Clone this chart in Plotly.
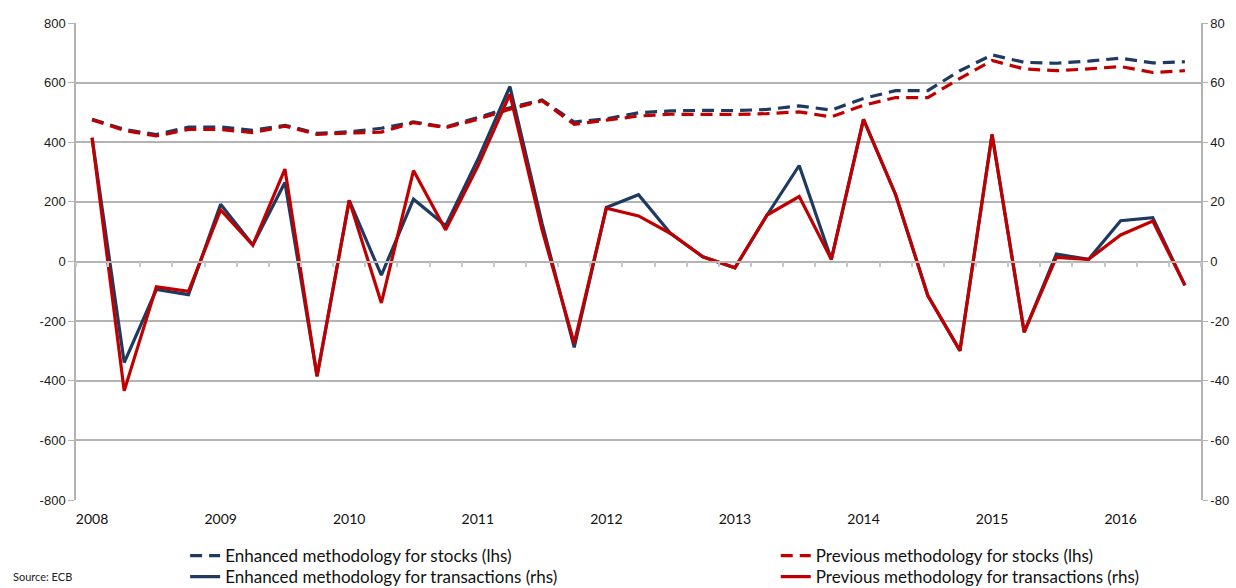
import plotly.graph_objects as go

quarters = [f"{y}Q{q}" for y in range(2008, 2017) for q in range(1, 5)][:35]
year_ticks = [f"{y}Q1" for y in range(2008, 2017)]
year_labels = [str(y) for y in range(2008, 2017)]
lhs_ticks = [-800, -600, -400, -200, 0, 200, 400, 600, 800]
lhs_labels = ["-800", "-600", "-400", "-200", "0", "200", "400", "600", "800"]
rhs_ticks = [-80, -60, -40, -20, 0, 20, 40, 60, 80]
rhs_labels = ["-80", "-60", "-40", "-20", "0", "20", "40", "60", "80"]

enh_stocks = [477, 443, 426, 451, 451, 440, 457, 430, 435, 447, 468, 451,
              483, 516, 542, 468, 479, 499, 505, 507, 506, 510, 522, 508,
              547, 573, 573, 640, 693, 668, 665, 672, 682, 666, 670]
prev_stocks = [475, 440, 421, 443, 443, 432, 454, 426, 431, 434, 466, 449,
               477, 511, 539, 460, 474, 488, 494, 494, 493, 496, 502, 485,
               524, 550, 550, 614, 674, 646, 640, 646, 654, 634, 640]
enh_trans = [41.5, -33.9, -9.4, -11.1, 19.2, 5.5, 26.5, -38.5, 20.5, -4.6, 20.9, 12.0,
             34.2, 58.7, 12.8, -28.8, 18.1, 22.4, 9.4, 1.6, -2.1, 15.6, 32.2, 0.7,
             47.7, 22.4, -11.4, -29.9, 42.6, -23.7, 2.5, 0.7, 13.7, 14.7, -8.0]
prev_trans = [41.5, -43.4, -8.5, -10.0, 17.3, 5.5, 31.0, -38.5, 20.5, -13.9, 30.5, 10.6,
              31.9, 56.1, 10.6, -27.4, 17.9, 15.3, 9.4, 1.6, -2.1, 15.6, 21.8, 0.7,
              47.7, 22.4, -11.4, -29.9, 42.6, -23.7, 1.4, 0.7, 8.9, 13.6, -8.0]

NAVY = "#1F3A60"
RED = "#C00000"
GRID = "#B3B3B3"
DASH = "12px,7px"
LW = 3.2

fig = go.Figure()
fig.add_trace(go.Scatter(x=quarters, y=enh_stocks, mode="lines", name="Enhanced methodology for stocks (lhs)",
                         line=dict(color=NAVY, width=LW, dash=DASH), legend="legend"))
fig.add_trace(go.Scatter(x=quarters, y=prev_stocks, mode="lines", name="Previous methodology for stocks (lhs)",
                         line=dict(color=RED, width=LW, dash=DASH), legend="legend2"))
fig.add_trace(go.Scatter(x=quarters, y=enh_trans, mode="lines", name="Enhanced methodology for transactions (rhs)",
                         line=dict(color=NAVY, width=LW), yaxis="y2", legend="legend3"))
fig.add_trace(go.Scatter(x=quarters, y=prev_trans, mode="lines", name="Previous methodology for transactions (rhs)",
                         line=dict(color=RED, width=LW), yaxis="y2", legend="legend4"))
# helper (invisible) trace so the zero-line category axis with boundary ticks is drawn
fig.add_trace(go.Scatter(x=quarters, y=[None] * len(quarters), xaxis="x2", showlegend=False,
                         hoverinfo="skip", mode="lines"))

tick_font = dict(family="Liberation Sans, Arial, sans-serif", size=13, color="#1a1a1a")
leg_font = dict(family="Lato, Open Sans, sans-serif", size=17, color="#111")


def leg(x, y):
    return dict(x=x, y=y, xanchor="left", yanchor="top", orientation="v",
                font=leg_font, bgcolor="rgba(0,0,0,0)", itemwidth=30, tracegroupgap=0)


fig.update_layout(
    width=1236, height=588,
    margin=dict(l=76, r=35, t=23, b=88, autoexpand=False),
    paper_bgcolor="white", plot_bgcolor="white",
    showlegend=True,
    xaxis=dict(type="category", categoryorder="array", categoryarray=quarters,
               range=[-0.5, len(quarters) - 0.5], tickmode="array", tickvals=year_ticks,
               ticktext=year_labels, showgrid=False, showline=False, zeroline=False,
               ticks="", ticklabelstandoff=9,
               tickfont=dict(family="Lato, Open Sans, sans-serif", size=14, color="#111")),
    xaxis2=dict(type="category", categoryorder="array", categoryarray=quarters,
                range=[-0.5, len(quarters) - 0.5], overlaying="x", anchor="free", position=0.5,
                side="bottom", showticklabels=False, showgrid=False, zeroline=False,
                showline=True, linecolor=GRID, linewidth=1.5,
                ticks="outside", tickson="boundaries", ticklen=5, tickcolor="#C8C8C8", tickwidth=1.5),
    yaxis=dict(range=[-800, 800], tickmode="array", tickvals=lhs_ticks, ticktext=lhs_labels,
               showgrid=True, gridcolor=GRID, gridwidth=1.5,
               zeroline=False, showline=True, linecolor=GRID, linewidth=1.5,
               ticks="outside", ticklen=6, tickcolor=GRID, tickfont=tick_font),
    yaxis2=dict(range=[-80, 80], tickmode="array", tickvals=rhs_ticks, ticktext=rhs_labels,
                overlaying="y", side="right", showgrid=False,
                zeroline=False, showline=True, linecolor=GRID, linewidth=1.5,
                ticks="outside", ticklen=5, tickcolor=GRID, tickfont=tick_font),
    legend=leg(0.097, -0.08),
    legend2=leg(0.622, -0.08),
    legend3=leg(0.097, -0.1237),
    legend4=leg(0.622, -0.1237),
    annotations=[dict(text="Source: ECB", xref="paper", yref="paper", x=-0.058, y=-0.161,
                      xanchor="left", yanchor="middle", showarrow=False,
                      font=dict(family="Lato, Open Sans, sans-serif", size=11, color="#222"))],
)

fig.write_html("out.html", config={"displayModeBar": False},
               post_script="document.body.style.margin='0';document.body.style.padding='0';")
